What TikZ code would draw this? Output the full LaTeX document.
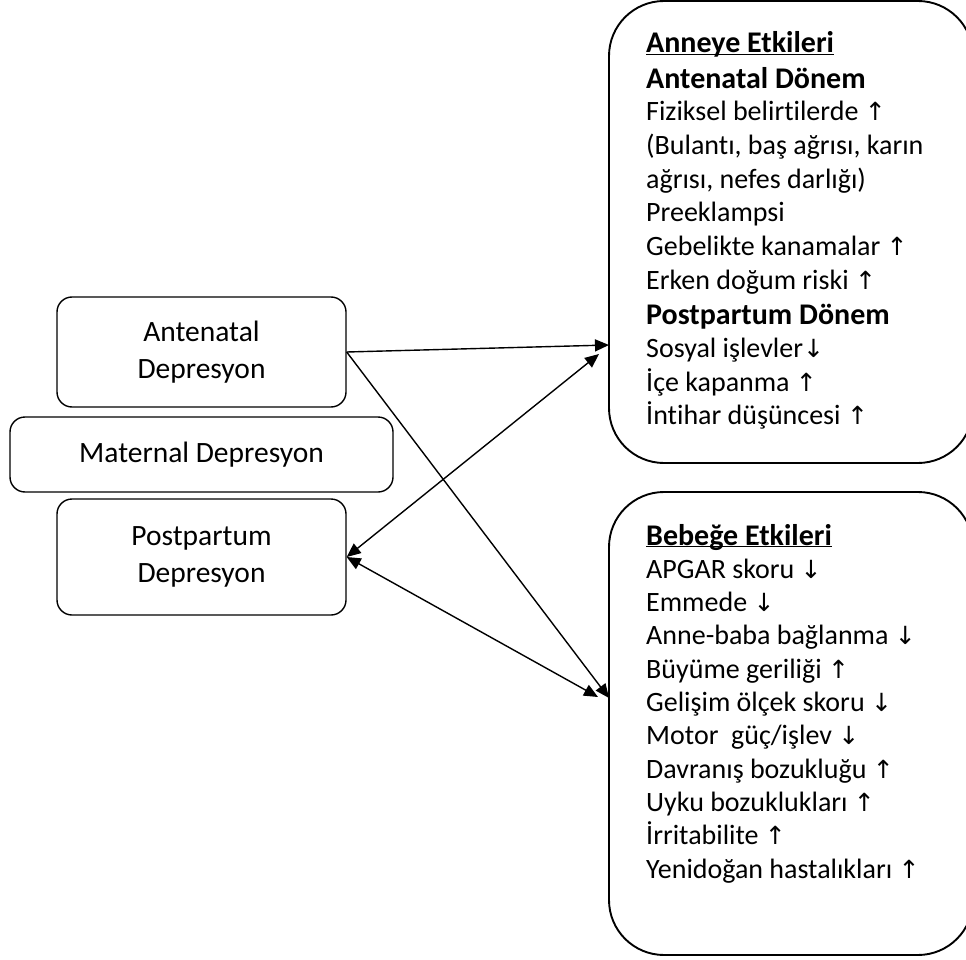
\documentclass[tikz,border=0pt]{standalone}
\usepackage{fontspec}
\setmainfont{Carlito}[Ligatures=NoCommon]
\newfontfamily\okyazi{DejaVu Sans}
\usetikzlibrary{arrows.meta,positioning}

\newcommand{\artis}{{\okyazi\fontsize{25}{25}\selectfont ↑}}
\newcommand{\azalis}{{\okyazi\fontsize{25}{25}\selectfont ↓}}
\newcommand{\altcizgi}[1]{\underline{\smash{#1}}}

\tikzset{
   kutu/.style={draw, rounded corners=15pt, line width=1.4pt, align=center,
      font=\fontsize{29.5}{37}\selectfont},
   buyukkutu/.style={draw, rounded corners=55pt, line width=1.9pt},
   satir/.style={anchor=base west, inner sep=0pt, font=\fontsize{28}{33}\selectfont},
   baslik/.style={anchor=base west, inner sep=0pt, font=\fontsize{30}{33}\selectfont\bfseries},
   ok/.style={-{Triangle[length=14pt,width=12pt]}, line width=1.4pt},
   ciftok/.style={{Triangle[length=14pt,width=12pt]}-{Triangle[length=14pt,width=12pt]}, line width=1.4pt}
}

\begin{document}
\begin{tikzpicture}[x=1pt, y=-1pt]
   % frame
   \useasboundingbox[fill=white] (0,0) rectangle (966,960);
   \clip (0,0) rectangle (966,960);

   % left boxes
   \node[kutu, minimum width=289pt, minimum height=110pt] (anten) at (201.5,352) {Antenatal\\Depresyon};
   \node[kutu, minimum width=383pt, minimum height=75pt] (matern) at (201.5,454.5) {Maternal Depresyon};
   \node[kutu, minimum width=289pt, minimum height=116pt] (postp) at (201.5,557) {Postpartum\\Depresyon};

   % right boxes
   \node[buyukkutu, minimum width=364pt, minimum height=462pt] (anneye) at (791,232) {};
   \node[buyukkutu, minimum width=364pt, minimum height=463pt] (bebege) at (791,723.5) {};

   % effects on the mother
   \node[baslik] (anneyebaslik) at (646,53) {\altcizgi{Anneye Etkileri}};
   \node[baslik] (antdonem) at (646,89) {Antenatal Dönem};
   \node[baslik] (postdonem) at (646,324) {Postpartum Dönem};
   \foreach \i/\metin in {2/{Fiziksel belirtilerde \artis},
                          3/{(Bulantı, baş ağrısı, karın},
                          4/{ağrısı, nefes darlığı)},
                          5/{Preeklampsi},
                          6/{Gebelikte kanamalar \artis},
                          7/{Erken doğum riski \artis},
                          9/{Sosyal işlevler\azalis},
                          10/{İçe kapanma \artis},
                          11/{İntihar düşüncesi \artis}}{%
      \node[satir] (anne\i) at (646,{53+33.8*\i}) {\metin};
   }

   % effects on the baby
   \node[baslik] (bebegebaslik) at (646,545) {\altcizgi{Bebeğe Etkileri}};
   \foreach \i/\metin in {1/{APGAR skoru \azalis},
                          2/{Emmede \azalis},
                          3/{Anne-baba bağlanma \azalis},
                          4/{Büyüme geriliği \artis},
                          5/{Gelişim ölçek skoru \azalis},
                          6/{Motor\ \ güç/işlev \azalis},
                          7/{Davranış bozukluğu \artis},
                          8/{Uyku bozuklukları \artis},
                          9/{İrritabilite \artis},
                          10/{Yenidoğan hastalıkları \artis}}{%
      \node[satir] (bebek\i) at (646,{545+33.3*\i}) {\metin};
   }

   % connector ends
   \coordinate (a1) at (609,345);
   \coordinate (a2) at (599,354);
   \coordinate (b1) at (609,698);
   \coordinate (b2) at (598,697);

   % connectors
   \draw[ok] (anten.east) -- (a1);
   \draw[ok] (anten.east) -- (b1);
   \draw[ciftok] (postp.east) -- (a2);
   \draw[ciftok] (postp.east) -- (b2);
\end{tikzpicture}
\end{document}
